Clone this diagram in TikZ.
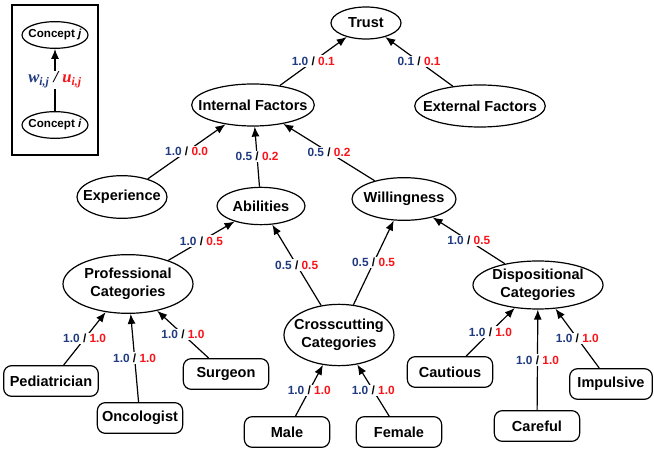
\documentclass[tikz,border=0pt]{standalone}
\usepackage{fontspec}
\usepackage{amsmath}
\usepackage{tikz}
\usetikzlibrary{shapes.geometric,arrows.meta}
\setmainfont{Liberation Sans}
\newfontfamily\keyfont{Liberation Serif}

\definecolor{wblue}{RGB}{31,58,128}
\definecolor{ured}{RGB}{250,20,25}

\newcommand{\wu}[2]{\textcolor{wblue}{#1} / \textcolor{ured}{#2}}

\tikzset{
	concept/.style={shape=ellipse, draw=black, line width=0.9pt, align=center,
		inner xsep=-30pt, inner ysep=-10pt,
		font=\bfseries\fontsize{10.9}{13.3}\selectfont},
	leaf/.style={shape=rectangle, rounded corners=6pt, draw=black, line width=0.9pt,
		minimum width=64pt, minimum height=23pt, inner sep=0pt,
		font=\bfseries\fontsize{10.9}{13.3}\selectfont},
	link/.style={-{Latex[length=7.5pt,width=6pt]}, line width=0.9pt},
	weight/.style={fill=white, inner sep=1pt, font=\bfseries\fontsize{8.9}{10}\selectfont}
}

\begin{document}
\begin{tikzpicture}[x=0.75pt, y=-0.75pt]
	\useasboundingbox (0,0) rectangle (654,452);

	% key
	\draw[line width=2pt] (12,5) rectangle (98,155);
	\node[concept, minimum width=49.5pt, minimum height=20pt, font=\bfseries\fontsize{8.7}{10}\selectfont] (conj) at (55,35) {Concept \textit{j}};
	\node[concept, minimum width=49.5pt, minimum height=20pt, font=\bfseries\fontsize{8.7}{10}\selectfont] (coni) at (55,125) {Concept \textit{i}};

	% concepts
	\node[concept, minimum width=52.5pt, minimum height=24pt] (trust) at (366,23)   {Trust};
	\node[concept, minimum width=92pt, minimum height=31.5pt] (ifac) at (253,105)  {Internal Factors};
	\node[concept, minimum width=98pt, minimum height=31.5pt] (efac) at (480,106)  {External Factors};
	\node[concept, minimum width=67.5pt, minimum height=32pt] (exper) at (122,197) {Experience};
	\node[concept, minimum width=66pt, minimum height=28pt] (abil) at (261,206)   {Abilities};
	\node[concept, minimum width=78pt, minimum height=32pt] (will) at (404,199)   {Willingness};
	\node[concept, minimum width=97.5pt, minimum height=44pt] (prof) at (128,284) {Professional\\Categories};
	\node[concept, minimum width=82.5pt, minimum height=46pt] (cross) at (339,335) {Crosscutting\\Categories};
	\node[concept, minimum width=97.5pt, minimum height=36pt] (disp) at (538,285) {Dispositional\\Categories};

	% leaves
	\node[leaf, minimum width=71pt] (pedi) at (51,381) {Pediatrician};
	\node[leaf] (onco) at (140,418) {Oncologist};
	\node[leaf] (surg) at (226,374) {Surgeon};
	\node[leaf] (male) at (287,432) {Male};
	\node[leaf] (fem) at (399,432)  {Female};
	\node[leaf] (caut) at (450,372) {Cautious};
	\node[leaf] (care) at (537,426) {Careful};
	\node[leaf, minimum width=62pt] (impu) at (611,384) {Impulsive};

	\path[link] (coni) edge node[fill=white, inner sep=1pt, font=\keyfont\bfseries\itshape\fontsize{12.5}{14}\selectfont]
		{\textcolor{wblue}{w\textsubscript{i,j}} / \textcolor{ured}{u\textsubscript{i,j}}} (conj);

	\path[link] (ifac) edge node[weight] {\wu{1.0}{0.1}} (trust);
	\path[link] (efac) edge node[weight] {\wu{0.1}{0.1}} (trust);

	\path[link] (exper) edge node[weight] {\wu{1.0}{0.0}} (ifac);
	\path[link] (abil) edge node[weight] {\wu{0.5}{0.2}} (ifac);
	\path[link] (will) edge node[weight] {\wu{0.5}{0.2}} (ifac);

	\path[link] (prof) edge node[weight] {\wu{1.0}{0.5}} (abil);
	\path[link] (cross) edge node[weight] {\wu{0.5}{0.5}} (abil);
	\path[link] (cross) edge node[weight] {\wu{0.5}{0.5}} (will);
	\path[link] (disp) edge node[weight] {\wu{1.0}{0.5}} (will);

	\path[link] (pedi) edge node[weight] {\wu{1.0}{1.0}} (prof);
	\path[link] (onco) edge node[weight] {\wu{1.0}{1.0}} (prof);
	\path[link] (surg) edge node[weight] {\wu{1.0}{1.0}} (prof);

	\path[link] (male) edge node[weight] {\wu{1.0}{1.0}} (cross);
	\path[link] (fem) edge node[weight] {\wu{1.0}{1.0}} (cross);

	\path[link] (caut) edge node[weight] {\wu{1.0}{1.0}} (disp);
	\path[link] (care) edge node[weight] {\wu{1.0}{1.0}} (disp);
	\path[link] (impu) edge node[weight] {\wu{1.0}{1.0}} (disp);

\end{tikzpicture}
\end{document}
